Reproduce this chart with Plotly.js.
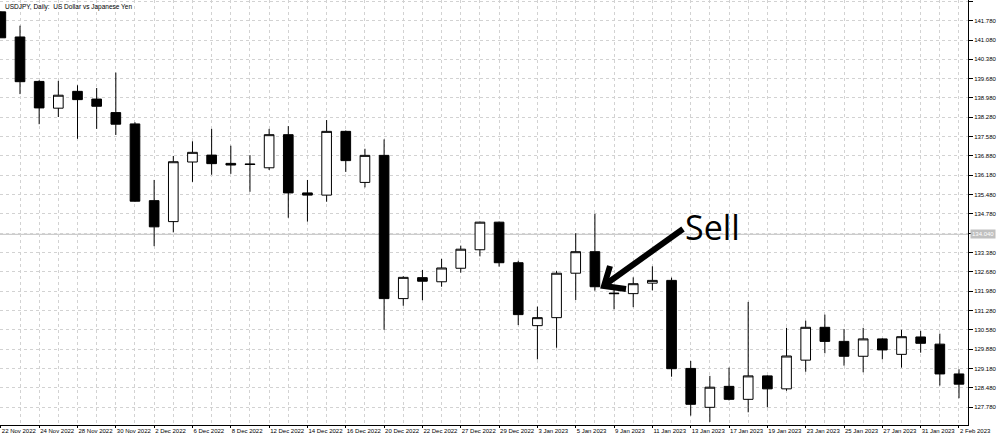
<!DOCTYPE html>
<html>
<head>
<meta charset="utf-8">
<script src="https://cdn.plot.ly/plotly-3.0.1.min.js"></script>
<style>
  html, body { margin: 0; padding: 0; background: #ffffff; }
  #chart { width: 1000px; height: 438px; }
</style>
</head>
<body>
<div id="chart"></div>
<script>
// ---- Data ----
const dates = ['22 Nov 2022','23 Nov 2022','24 Nov 2022','25 Nov 2022','28 Nov 2022','29 Nov 2022','30 Nov 2022',
  '1 Dec 2022','2 Dec 2022','5 Dec 2022','6 Dec 2022','7 Dec 2022','8 Dec 2022','9 Dec 2022','12 Dec 2022',
  '13 Dec 2022','14 Dec 2022','15 Dec 2022','16 Dec 2022','19 Dec 2022','20 Dec 2022','21 Dec 2022','22 Dec 2022',
  '23 Dec 2022','27 Dec 2022','28 Dec 2022','29 Dec 2022','30 Dec 2022','3 Jan 2023','4 Jan 2023','5 Jan 2023',
  '6 Jan 2023','9 Jan 2023','10 Jan 2023','11 Jan 2023','12 Jan 2023','13 Jan 2023','16 Jan 2023','17 Jan 2023',
  '18 Jan 2023','19 Jan 2023','20 Jan 2023','23 Jan 2023','24 Jan 2023','25 Jan 2023','26 Jan 2023','27 Jan 2023',
  '30 Jan 2023','31 Jan 2023','1 Feb 2023','2 Feb 2023'];

const openP  = [142.10,141.19,139.58,138.61,139.22,138.94,138.45,138.04,135.26,134.50,136.66,136.91,136.61,136.59,136.45,
  137.65,135.54,135.46,137.77,135.92,136.90,131.71,132.47,132.32,132.81,133.48,134.48,133.01,130.73,131.02,132.63,
  133.41,131.91,131.89,132.27,132.37,129.18,127.77,128.53,128.06,128.91,128.44,129.48,130.67,130.16,129.62,130.25,
  129.69,130.32,130.06,128.98];
const highP  = [142.12,141.60,139.62,139.60,139.44,139.34,139.90,138.10,136.01,136.88,137.41,137.86,137.25,136.91,137.86,
  137.96,136.01,138.18,137.80,137.14,137.48,132.52,132.75,133.15,133.63,134.50,134.50,133.08,131.42,132.71,134.08,
  134.78,132.08,132.48,132.88,132.47,129.45,128.91,129.21,131.59,128.93,130.65,130.91,131.13,130.61,130.65,130.27,
  130.58,130.54,130.44,129.15];
const lowP   = [141.16,139.12,138.03,138.29,137.50,137.86,137.64,135.22,133.61,134.11,135.94,136.20,136.23,135.58,136.37,
  134.64,134.50,135.22,136.30,135.74,130.58,131.45,131.65,132.14,132.65,133.24,132.87,130.75,129.51,129.93,131.66,
  132.00,131.32,131.40,132.01,128.88,127.47,127.24,128.02,127.59,127.77,128.37,129.06,129.73,129.28,129.04,129.51,
  129.21,129.75,128.56,128.10];
const closeP = [141.16,139.57,138.62,139.08,138.92,138.68,138.03,135.24,134.31,136.67,137.01,136.60,136.55,136.57,137.65,
  135.54,135.46,137.77,136.71,136.90,131.71,132.48,132.34,132.82,133.50,134.48,133.01,131.13,131.02,132.63,133.41,
  132.14,131.89,132.25,132.37,129.17,127.88,128.50,128.06,128.91,128.44,129.63,130.67,130.16,129.62,130.25,129.85,
  130.33,130.09,128.98,128.61];

const priceTicks = [127.78,128.48,129.18,129.88,130.58,131.28,131.98,132.68,133.38,134.08,134.78,135.48,136.18,
  136.88,137.58,138.28,138.98,139.68,140.38,141.08,141.78,142.48];
const markedLevel = 134.04;
const markedLabel = '134.040';
const chartTitle = 'USDJPY, Daily:  US Dollar vs Japanese Yen';
const signalText = 'Sell';

// ---- Build chart ----
const xIdx = dates.map((d, i) => i);
const labelVals = xIdx.filter(i => i % 2 === 0);
const labelText = labelVals.map(i => dates[i]);

const FONT = 'Liberation Sans, Arial, sans-serif';
const PW = 968, PH = 425; // plot area in px
const px = (x) => x / PW;
const py = (y) => 1 - y / PH;
const GRID = '#d2d2d2';

const trace = {
  type: 'candlestick',
  x: xIdx,
  open: openP, high: highP, low: lowP, close: closeP,
  increasing: { line: { color: '#000000', width: 1 }, fillcolor: '#ffffff' },
  decreasing: { line: { color: '#000000', width: 1 }, fillcolor: '#000000' },
  whiskerwidth: 0,
  hoverinfo: 'skip',
  showlegend: false
};

const arrowPath = 'M ' + px(610) + ' ' + py(266) + ' L ' + px(604) + ' ' + py(286) + ' L ' + px(626) + ' ' + py(289);

const layout = {
  width: 1000, height: 438,
  margin: { l: 0, r: 32, t: 0, b: 13, pad: 0 },
  paper_bgcolor: '#ffffff', plot_bgcolor: '#ffffff',
  boxgap: 0.28,
  showlegend: false,
  font: { family: FONT, size: 6, color: '#000000' },
  xaxis: {
    type: 'linear',
    range: [-0.044, 50.47],
    rangeslider: { visible: false },
    tickmode: 'array', tickvals: labelVals, ticktext: labelText,
    tickangle: 0,
    ticklabelposition: 'outside right',
    ticks: 'outside', ticklen: 2, tickcolor: '#000000', tickwidth: 1,
    ticklabelstandoff: 0,
    tickfont: { family: FONT, size: 6, color: '#000000' },
    showgrid: true, gridcolor: GRID, griddash: '3px,3px', gridwidth: 1,
    minor: { tickmode: 'linear', tick0: 0, dtick: 1, showgrid: true, gridcolor: GRID, griddash: '3px,3px', gridwidth: 1, ticks: '' },
    showline: true, linecolor: '#000000', linewidth: 1, mirror: true,
    zeroline: false, fixedrange: true, automargin: false
  },
  yaxis: {
    side: 'right',
    range: [127.13, 142.53],
    tickmode: 'array', tickvals: priceTicks,
    ticktext: priceTicks.map(v => Math.abs(v - markedLevel) < 0.1 ? '' : v.toFixed(3)),
    ticks: 'outside', ticklen: 4, tickcolor: '#000000', tickwidth: 1,
    tickfont: { family: FONT, size: 6, color: '#000000' },
    showgrid: true, gridcolor: GRID, griddash: '3px,3px', gridwidth: 1,
    showline: true, linecolor: '#000000', linewidth: 1, mirror: true,
    zeroline: false, fixedrange: true, automargin: false
  },
  shapes: [
    { type: 'line', xref: 'paper', yref: 'y', x0: 0, x1: 1, y0: markedLevel, y1: markedLevel,
      line: { color: '#c0c0c0', width: 1 }, layer: 'below' },
    { type: 'line', xref: 'paper', yref: 'paper', x0: px(683), y0: py(229), x1: px(606), y1: py(284),
      line: { color: '#000000', width: 6 } },
    { type: 'path', xref: 'paper', yref: 'paper', path: arrowPath,
      line: { color: '#000000', width: 6 } }
  ],
  annotations: [
    { xref: 'paper', yref: 'paper', x: 0.003, y: 0.997, xanchor: 'left', yanchor: 'top',
      text: chartTitle, showarrow: false, font: { family: FONT, size: 6.5, color: '#000000' } },
    { xref: 'paper', yref: 'paper', x: px(712), y: py(227), xanchor: 'center', yanchor: 'middle',
      text: signalText, showarrow: false, font: { family: 'Open Sans, sans-serif', size: 34, color: '#000000' } },
    { xref: 'paper', yref: 'y', x: 1, y: markedLevel, xanchor: 'left', yanchor: 'middle', xshift: 2,
      text: markedLabel, showarrow: false, bgcolor: '#c0c0c0', borderpad: 1,
      font: { family: FONT, size: 6, color: '#ffffff' } }
  ]
};

Plotly.newPlot('chart', [trace], layout, { staticPlot: true, displayModeBar: false });
</script>
</body>
</html>
